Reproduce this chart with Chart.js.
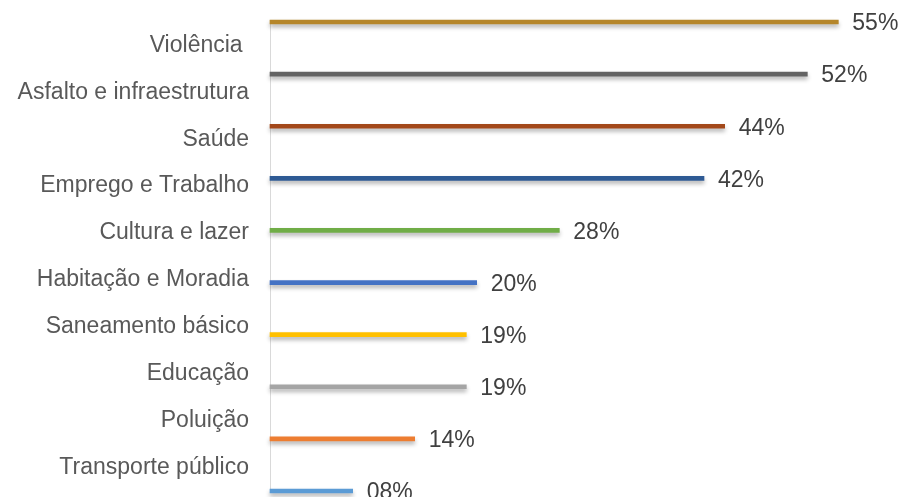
<!DOCTYPE html>
<html>
<head>
<meta charset="utf-8">
<script src="https://cdn.jsdelivr.net/npm/chart.js@4/dist/chart.umd.min.js"></script>
<style>
  html, body { margin: 0; padding: 0; background: #fff; }
  #wrap { width: 900px; height: 497px; }
</style>
</head>
<body>
<div id="wrap"><canvas id="problemsChart"></canvas></div>
<script>
const categories = ['Violência ', 'Asfalto e infraestrutura', 'Saúde', 'Emprego e Trabalho', 'Cultura e lazer',
    'Habitação e Moradia', 'Saneamento básico', 'Educação', 'Poluição', 'Transporte público'];
const percentages = [55, 52, 44, 42, 28, 20, 19, 19, 14, 8];
const barColors = ['#b5862a', '#636363', '#a3481a', '#2e5a94', '#70ad47',
    '#4472c4', '#ffc000', '#a5a5a5', '#ed7d31', '#5b9bd5'];

// soft drop shadow under the thin bars
const barShadow = {
    id: 'barShadow',
    beforeDatasetsDraw(chart) {
        const c = chart.ctx;
        c.save();
        c.shadowColor = 'rgba(0,0,0,0.3)';
        c.shadowBlur = 4;
        c.shadowOffsetY = 3;
    },
    afterDatasetsDraw(chart) {
        chart.ctx.restore();
    }
};

// percentage text to the right of each bar
const valueLabels = {
    id: 'valueLabels',
    afterDatasetsDraw(chart) {
        const c = chart.ctx;
        const meta = chart.getDatasetMeta(0);
        c.save();
        c.font = '23px "Liberation Sans", Arial, sans-serif';
        c.fillStyle = '#404040';
        c.textAlign = 'left';
        c.textBaseline = 'middle';
        meta.data.forEach((bar, i) => {
            const txt = String(percentages[i]).padStart(2, '0') + '%';
            c.fillText(txt, bar.x + 14, bar.y + 2);
        });
        c.restore();
    }
};

const ctx = document.getElementById('problemsChart').getContext('2d');
new Chart(ctx, {
    type: 'bar',
    data: {
        labels: categories,
        datasets: [{
            data: percentages,
            backgroundColor: barColors,
            barThickness: 4,
            borderWidth: 0,
            clip: false,
            yAxisID: 'y'
        }]
    },
    options: {
        indexAxis: 'y',
        responsive: true,
        maintainAspectRatio: false,
        animation: false,
        layout: { padding: { top: 22, bottom: 6, left: 0, right: 10 } },
        plugins: {
            legend: { display: false },
            tooltip: { enabled: false }
        },
        scales: {
            x: { display: false, min: 0, max: 60 },
            y: { display: false, type: 'category', offset: false },
            yl: {
                type: 'category',
                position: 'left',
                labels: categories,
                offset: true,
                grid: { display: false, drawTicks: false },
                border: { display: true, color: '#d9d9d9', width: 1 },
                ticks: {
                    color: '#595959',
                    padding: 21,
                    autoSkip: false,
                    font: { family: '"Liberation Sans", Arial, sans-serif', size: 23 }
                },
                afterFit(scale) {
                    scale.width = 270;
                    scale.paddingTop = 0;
                    scale.paddingBottom = 0;
                }
            }
        }
    },
    plugins: [barShadow, valueLabels]
});
</script>
</body>
</html>
